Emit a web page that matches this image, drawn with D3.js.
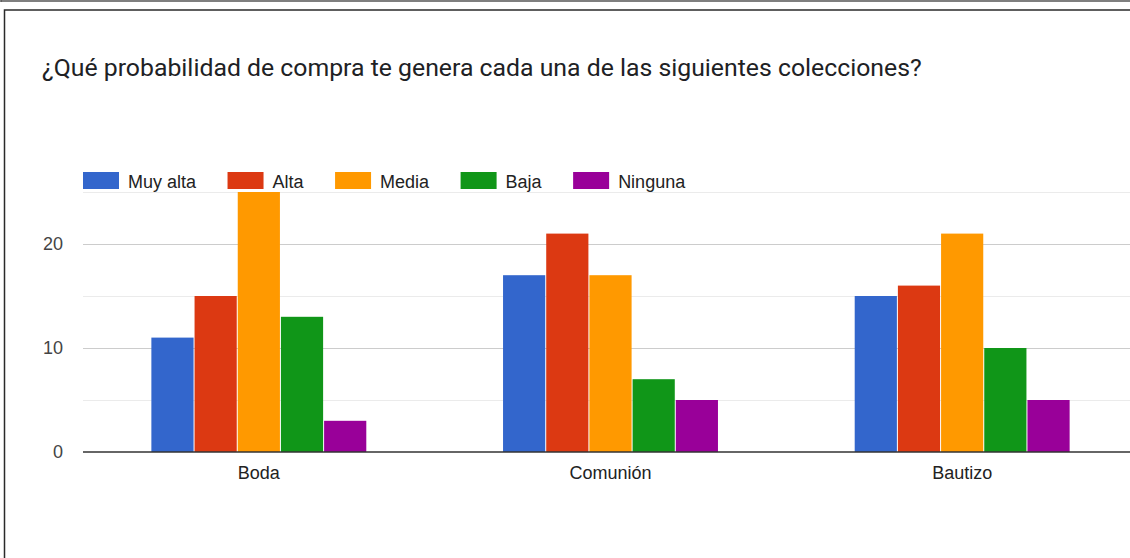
<!DOCTYPE html>
<html>
<head>
<meta charset="utf-8">
<script src="https://cdn.jsdelivr.net/npm/d3@7"></script>
<style>
  html, body { margin: 0; padding: 0; background: #fff; }
  svg { display: block; }
</style>
</head>
<body>
<svg id="chart" width="1130" height="558"></svg>
<script>
// Survey responses per collection
const categories = ["Boda", "Comunión", "Bautizo"];
const seriesNames = ["Muy alta", "Alta", "Media", "Baja", "Ninguna"];
const muyAlta = [11, 17, 15];
const alta    = [15, 21, 16];
const media   = [25, 17, 21];
const baja    = [13, 7, 10];
const ninguna = [3, 5, 5];
const seriesValues = [muyAlta, alta, media, baja, ninguna];
const seriesColors = ["#3366cc", "#dc3912", "#ff9900", "#109618", "#990099"];
const majorTicks = [0, 10, 20];
const minorTicks = [5, 15, 25];
const titleText = "¿Qué probabilidad de compra te genera cada una de las siguientes colecciones?";

(function draw() {
  const svg = d3.select("#chart");

  // Outer frame pieces
  svg.append("line").attr("x1", 1).attr("x2", 1130).attr("y1", 1).attr("y2", 1)
    .attr("stroke", "#555").attr("stroke-width", 1.5);
  svg.append("line").attr("x1", 1).attr("x2", 1).attr("y1", 0).attr("y2", 2)
    .attr("stroke", "#555").attr("stroke-width", 1.5);
  svg.append("rect").attr("x", 4.5).attr("y", 10).attr("width", 1140).attr("height", 560)
    .attr("fill", "#fff").attr("stroke", "#2a2a2a").attr("stroke-width", 1.5);

  // Title
  svg.append("text")
    .attr("x", 42).attr("y", 76)
    .attr("font-family", "Roboto, 'Noto Sans', sans-serif")
    .attr("font-size", 24.8)
    .attr("fill", "#202124")
    .text(titleText);

  // Plot area
  const plotLeft = 83, plotRight = 1138, plotTop = 192, plotBottom = 452;
  const y = d3.scaleLinear().domain([0, 25]).range([plotBottom, plotTop]);
  const x0 = d3.scaleBand().domain(categories).range([plotLeft, plotRight])
    .paddingInner(0.386).paddingOuter(0.193);
  const x1 = d3.scaleBand().domain(seriesNames).range([0, x0.bandwidth()]);

  // Gridlines
  const grid = svg.append("g");
  grid.selectAll("line.minor").data(minorTicks).join("line")
    .attr("class", "minor")
    .attr("x1", plotLeft).attr("x2", 1130)
    .attr("y1", d => Math.round(y(d)) + 0.5).attr("y2", d => Math.round(y(d)) + 0.5)
    .attr("stroke", "#ebebeb").attr("stroke-width", 1);
  grid.selectAll("line.major").data(majorTicks.filter(d => d !== 0)).join("line")
    .attr("class", "major")
    .attr("x1", plotLeft).attr("x2", 1130)
    .attr("y1", d => Math.round(y(d)) + 0.5).attr("y2", d => Math.round(y(d)) + 0.5)
    .attr("stroke", "#cccccc").attr("stroke-width", 1);

  // Bars
  const groups = svg.append("g").selectAll("g").data(categories).join("g")
    .attr("transform", d => `translate(${x0(d)},0)`);
  groups.selectAll("rect")
    .data((c, ci) => seriesNames.map((s, si) => ({ s, si, v: seriesValues[si][ci] })))
    .join("rect")
    .attr("x", d => x1(d.s) + 0.5)
    .attr("width", x1.bandwidth() - 1)
    .attr("y", d => y(d.v))
    .attr("height", d => y(0) - y(d.v))
    .attr("fill", d => seriesColors[d.si]);

  // Baseline
  svg.append("line").attr("x1", plotLeft).attr("x2", 1130)
    .attr("y1", y(0)).attr("y2", y(0))
    .attr("stroke", "#333").attr("stroke-width", 1.5);

  // Y axis tick labels
  const yAxis = d3.axisLeft(y).tickValues(majorTicks).tickSize(0).tickPadding(20);
  const yg = svg.append("g").attr("transform", `translate(${plotLeft},0)`).call(yAxis);
  yg.select(".domain").remove();
  yg.selectAll("text")
    .attr("font-family", "Arial, 'Liberation Sans', sans-serif")
    .attr("font-size", 18).attr("fill", "#444");

  // X axis category labels
  const xAxis = d3.axisBottom(x0).tickSize(0).tickPadding(14);
  const xg = svg.append("g").attr("transform", `translate(0,${plotBottom})`).call(xAxis);
  xg.select(".domain").remove();
  xg.selectAll("text")
    .attr("font-family", "Arial, 'Liberation Sans', sans-serif")
    .attr("font-size", 18).attr("fill", "#222");

  // Legend
  const legend = svg.append("g");
  let lx = 83;
  seriesNames.forEach((name, i) => {
    legend.append("rect")
      .attr("x", lx).attr("y", 172).attr("width", 36).attr("height", 17)
      .attr("fill", seriesColors[i]);
    const t = legend.append("text")
      .attr("x", lx + 45).attr("y", 187.5)
      .attr("font-family", "Arial, 'Liberation Sans', sans-serif")
      .attr("font-size", 18).attr("fill", "#222")
      .text(name);
    lx += 45 + t.node().getComputedTextLength() + 31.5;
  });
})();
</script>
</body>
</html>
